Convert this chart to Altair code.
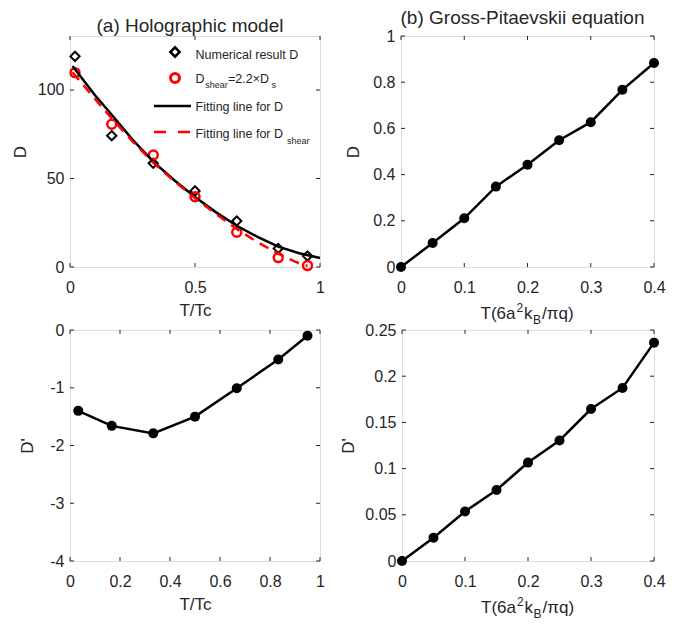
import altair as alt
import pandas as pd

FONT = "Liberation Sans"
INK = "#262626"
RED = "#ff0000"

# ---------------- data ----------------
# (a) top: D vs T/Tc
a_T = [0.02, 0.167, 0.333, 0.5, 0.667, 0.833, 0.95]
a_D_num = [119, 74.2, 58.6, 43, 26, 10.5, 6.2]
a_D_shear = [109.8, 80.6, 63.3, 39.7, 19.6, 5.3, 0.8]
fitD_T = [0.01, 0.1, 0.167, 0.25, 0.333, 0.417, 0.5, 0.583, 0.667, 0.75, 0.833, 0.917, 1.0]
fitD_V = [113.5, 97, 86, 72, 59.5, 49, 39.6, 31, 23.3, 17, 11.5, 7.8, 5.1]
fitS_T = [0.01, 0.1, 0.167, 0.25, 0.333, 0.417, 0.5, 0.583, 0.667, 0.75, 0.833, 0.9, 0.95]
fitS_V = [110, 95, 84, 71, 59, 48.5, 39, 30, 21.5, 14, 7.5, 3, 0.6]

# (a) bottom: D' vs T/Tc
a2_T = [0.033, 0.167, 0.333, 0.5, 0.667, 0.833, 0.95]
a2_Dp = [-1.40, -1.66, -1.79, -1.50, -1.01, -0.51, -0.10]

# (b): Gross-Pitaevskii
b_T = [0, 0.05, 0.1, 0.15, 0.2, 0.25, 0.3, 0.35, 0.4]
b_D = [0, 0.104, 0.211, 0.348, 0.443, 0.549, 0.627, 0.767, 0.883]
b_Dp = [0, 0.0252, 0.0536, 0.0768, 0.1065, 0.1305, 0.1645, 0.1873, 0.2363]

# tick values
a_xticks = [0, 0.5, 1]
a_yticks = [0, 50, 100]
a2_xticks = [0, 0.2, 0.4, 0.6, 0.8, 1]
a2_yticks = [-4, -3, -2, -1, 0]
b_xticks = [0, 0.1, 0.2, 0.3, 0.4]
b_yticks = [0, 0.2, 0.4, 0.6, 0.8, 1]
b2_yticks = [0, 0.05, 0.1, 0.15, 0.2, 0.25]

# texts
TITLE_A = "(a) Holographic model"
TITLE_B = "(b) Gross-Pitaevskii equation"
XLAB_A = "T/Tc"
XLAB_B = ["T(6a", "2", "k", "B", "/\u03c0q)"]
LEG = ["Numerical result D", "D", "shear", "=2.2\u00d7D", "s", "Fitting line for D", "shear"]

LBL = "datum.value < 0 ? '-' + format(-datum.value, '~g') : format(datum.value, '~g')"


def axis_x(vals, title):
    return alt.Axis(values=vals, title=title, labelExpr=LBL, ticks=False, tickSize=0,
                    domain=False, grid=False, labelFlush=False, labelOverlap=False,
                    labelPadding=12, labelFontSize=16, labelFont=FONT, labelColor=INK,
                    titleFont=FONT, titleFontSize=17, titleColor=INK,
                    titleFontWeight="normal", titlePadding=7)


def axis_y(vals, title, tpad):
    return alt.Axis(values=vals, title=title, labelExpr=LBL, ticks=False, tickSize=0, domain=False,
                    grid=False, labelFlush=False, labelOverlap=False, labelPadding=6,
                    labelFontSize=16, labelFont=FONT, labelColor=INK, titleFont=FONT,
                    titleFontSize=17, titleColor=INK, titleFontWeight="normal",
                    titlePadding=tpad)


def txt(s, x, y, size, align="left", baseline="middle", color=INK):
    return alt.Chart(pd.DataFrame({"t": [s]})).mark_text(
        align=align, baseline=baseline, font=FONT, fontSize=size, color=color
    ).encode(text="t:N", x=alt.value(x), y=alt.value(y))


def one():
    return alt.Chart(pd.DataFrame({"k": [0]}))


def frame_ticks(W, H, X, Y, xticks, yticks, L=4):
    dx = pd.DataFrame({"x": xticks})
    dy = pd.DataFrame({"y": yticks})
    bx = alt.Chart(dx).mark_rule(color=INK, strokeWidth=1)
    by = alt.Chart(dy).mark_rule(color=INK, strokeWidth=1)
    return [
        bx.encode(x=X("x"), y=alt.value(H), y2=alt.value(H - L)),
        bx.encode(x=X("x"), y=alt.value(0), y2=alt.value(L)),
        by.encode(y=Y("y"), x=alt.value(0), x2=alt.value(L)),
        by.encode(y=Y("y"), x=alt.value(W), x2=alt.value(W - L)),
    ]


def make_XY(xdom, ydom, xax, yax):
    xs = alt.Scale(domain=xdom, nice=False, zero=False)
    ys = alt.Scale(domain=ydom, nice=False, zero=False)
    X = lambda f: alt.X(f, type="quantitative", scale=xs, axis=xax)
    Y = lambda f: alt.Y(f, type="quantitative", scale=ys, axis=yax)
    return X, Y


def rich_xlabel(W, H):
    s = W / 2 - 47
    base = H + 52
    return [
        txt(XLAB_B[0], s, base, 17, baseline="alphabetic"),
        txt(XLAB_B[1], s + 36, base - 7, 12, baseline="alphabetic"),
        txt(XLAB_B[2], s + 43.5, base, 17, baseline="alphabetic"),
        txt(XLAB_B[3], s + 52.5, base + 4.5, 12, baseline="alphabetic"),
        txt(XLAB_B[4], s + 61.5, base, 17, baseline="alphabetic"),
    ]


def title(t):
    return alt.TitleParams(t, font=FONT, fontSize=19, fontWeight="normal", color=INK,
                           offset=0, dx=-5, anchor="middle")


# ---------------- panel (a) top ----------------
W1, H1 = 250, 231
X, Y = make_XY([0, 1], [0, 130.5], axis_x(a_xticks, XLAB_A), axis_y(a_yticks, "D", 8))
df_pts = pd.DataFrame({"x": a_T, "d": a_D_num, "s": a_D_shear})
df_fd = pd.DataFrame({"x": fitD_T, "y": fitD_V})
df_fs = pd.DataFrame({"x": fitS_T, "y": fitS_V})

LX = 125.5
tl_layers = frame_ticks(W1, H1, X, Y, a_xticks, a_yticks) + [
    alt.Chart(df_pts).mark_point(shape="diamond", filled=False, color="black", size=85,
                                 strokeWidth=2, opacity=1).encode(x=X("x"), y=Y("d")),
    alt.Chart(df_pts).mark_point(shape="circle", filled=False, color=RED, size=80,
                                 strokeWidth=2.5, opacity=1).encode(x=X("x"), y=Y("s")),
    alt.Chart(df_fd).mark_line(color="black", strokeWidth=2.5).encode(x=X("x"), y=Y("y")),
    alt.Chart(df_fs).mark_line(color=RED, strokeWidth=2.5, strokeDash=[10, 7]).encode(x=X("x"), y=Y("y")),
    # legend
    one().mark_point(shape="diamond", filled=False, color="black", size=85, strokeWidth=2.5,
                     opacity=1).encode(x=alt.value(105), y=alt.value(16)),
    txt(LEG[0], LX, 19, 12.5),
    one().mark_point(shape="circle", filled=False, color=RED, size=80, strokeWidth=3,
                     opacity=1).encode(x=alt.value(105), y=alt.value(42)),
    txt(LEG[1], LX, 42.5, 12.5),
    txt(LEG[2], 135.3, 48.5, 9),
    txt(LEG[3], 158, 42.5, 12.5),
    txt(LEG[4], 201.5, 49, 9),
    one().mark_rule(color="black", strokeWidth=2.5).encode(
        x=alt.value(84), x2=alt.value(121), y=alt.value(70)),
    txt(LEG[5], LX, 70.7, 12.5),
    one().mark_rule(color=RED, strokeWidth=2.5, strokeDash=[12, 12]).encode(
        x=alt.value(84), x2=alt.value(121), y=alt.value(96)),
    txt(LEG[5], LX, 97.5, 12.5),
    txt(LEG[6], 217, 104.5, 9),
]
tl = alt.layer(*tl_layers).properties(width=W1, height=H1, title=title(TITLE_A))

# ---------------- panel (b) top ----------------
W2, H2 = 253, 231
X, Y = make_XY([0, 0.4], [0, 1], axis_x(b_xticks, None), axis_y(b_yticks, "D", 10))
df_b = pd.DataFrame({"x": b_T, "y": b_D})
tr_layers = frame_ticks(W2, H2, X, Y, b_xticks, b_yticks) + [
    alt.Chart(df_b).mark_line(color="black", strokeWidth=2.5).encode(x=X("x"), y=Y("y")),
    alt.Chart(df_b).mark_point(shape="circle", filled=True, color="black", size=100,
                               opacity=1).encode(x=X("x"), y=Y("y")),
] + rich_xlabel(W2, H2)
tr = alt.layer(*tr_layers).properties(width=W2, height=H2, title=title(TITLE_B))

# ---------------- panel (a) bottom ----------------
W3, H3 = 250, 231
X, Y = make_XY([0, 1], [-4, 0], axis_x(a2_xticks, XLAB_A), axis_y(a2_yticks, "D'", 13))
df_a2 = pd.DataFrame({"x": a2_T, "y": a2_Dp})
bl_layers = frame_ticks(W3, H3, X, Y, a2_xticks, a2_yticks) + [
    alt.Chart(df_a2).mark_line(color="black", strokeWidth=2.5).encode(x=X("x"), y=Y("y")),
    alt.Chart(df_a2).mark_point(shape="circle", filled=True, color="black", size=100,
                                opacity=1).encode(x=X("x"), y=Y("y")),
]
bl = alt.layer(*bl_layers).properties(width=W3, height=H3)

# ---------------- panel (b) bottom ----------------
W4, H4 = 252, 231
X, Y = make_XY([0, 0.4], [0, 0.25], axis_x(b_xticks, None), axis_y(b2_yticks, "D'", 7))
df_b2 = pd.DataFrame({"x": b_T, "y": b_Dp})
br_layers = frame_ticks(W4, H4, X, Y, b_xticks, b2_yticks) + [
    alt.Chart(df_b2).mark_line(color="black", strokeWidth=2.5).encode(x=X("x"), y=Y("y")),
    alt.Chart(df_b2).mark_point(shape="circle", filled=True, color="black", size=100,
                                opacity=1).encode(x=X("x"), y=Y("y")),
] + rich_xlabel(W4, H4)
br = alt.layer(*br_layers).properties(width=W4, height=H4)

top = alt.hconcat(tl, tr, spacing=81, bounds="flush")
bottom = alt.hconcat(bl, br, spacing=82, bounds="flush")
chart = alt.vconcat(top, bottom, spacing=-5).properties(
    padding={"left": 2, "top": 0, "right": 5, "bottom": 5}
).configure_view(stroke=INK, strokeWidth=1).configure(background="white")

chart.save("out.html", embed_options={"renderer": "svg", "actions": False})
